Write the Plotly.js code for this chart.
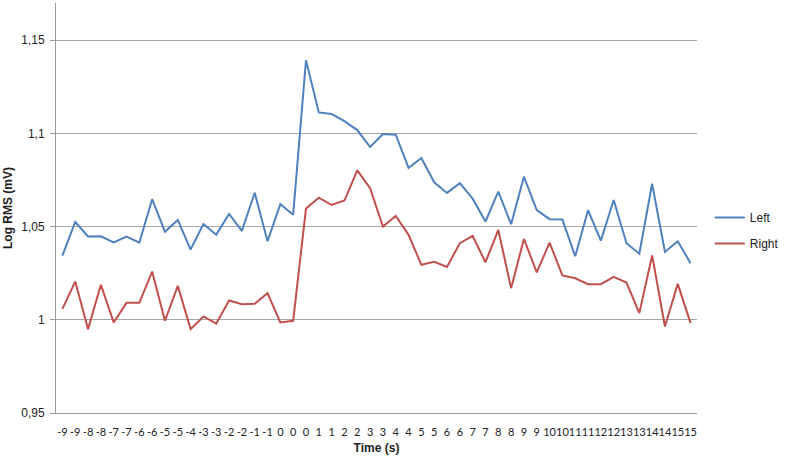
<!DOCTYPE html>
<html>
<head>
<meta charset="utf-8">
<script src="https://cdn.plot.ly/plotly-3.0.1.min.js"></script>
<style>
  body { margin: 0; background: #fff; }
  #myPlot { width: 787px; height: 460px; }
</style>
</head>
<body>
<div id="myPlot"></div>
<script>
// x labels as printed under the axis (rounded times, so some repeat)
var timeLabels = ["-9","-9","-8","-8","-7","-7","-6","-6","-5","-5",
  "-4","-3","-3","-2","-2","-1","-1","0","0","0",
  "1","1","2","2","3","3","4","4","5","5",
  "6","6","7","7","8","8","9","9","10","10",
  "11","11","12","12","13","13","14","14","15","15"]

// Left channel
var leftArray = [1.0345,1.0525,1.0447,1.0448,1.0416,1.0447,1.0414,1.0647,1.0473,1.0536,
  1.0377,1.0514,1.0457,1.0568,1.0477,1.0682,1.0422,1.0620,1.0564,1.1393,
  1.1113,1.1104,1.1066,1.1018,1.0927,1.0997,1.0993,1.0815,1.0868,1.0738,
  1.0681,1.0733,1.0650,1.0527,1.0688,1.0513,1.0768,1.0589,1.0540,1.0538,
  1.0341,1.0588,1.0425,1.0643,1.0411,1.0355,1.0730,1.0364,1.0422,1.0304]

// Right channel
var rightArray = [1.0059,1.0205,0.9950,1.0188,0.9986,1.0091,1.0091,1.0259,0.9995,1.0182,
  0.9950,1.0018,0.9979,1.0104,1.0084,1.0086,1.0143,0.9986,0.9995,1.0597,
  1.0655,1.0616,1.0640,1.0802,1.0706,1.0500,1.0557,1.0456,1.0295,1.0311,
  1.0284,1.0411,1.0450,1.0309,1.0482,1.0170,1.0434,1.0254,1.0414,1.0238,
  1.0223,1.0191,1.0191,1.0230,1.0200,1.0036,1.0345,0.9964,1.0193,0.9982]

// y ticks, comma decimals
var yTickVals = [0.95, 1, 1.05, 1.1, 1.15]
var yTickText = ["0,95", "1", "1,05", "1,1", "1,15"]

var xIndex = timeLabels.map(function (l, i) { return i })

function graphFunction() {
  var data = [
    {x: xIndex, y: leftArray, mode: "lines", name: "Left", legendgroup: "L",
     line: {color: "#4f81bd", width: 2}},
    {x: xIndex, y: rightArray, mode: "lines", name: "Right", legendgroup: "R",
     line: {color: "#c0504d", width: 2}}
  ]

  var layout = {
    width: 787, height: 460,
    margin: {l: 56, r: 84, t: 3, b: 47},
    paper_bgcolor: "#fff", plot_bgcolor: "#fff",
    font: {family: "Liberation Sans, Arial, sans-serif", size: 11, color: "#222"},
    showlegend: true,
    legend: {x: 1.02, y: 0.445, xanchor: "left", yanchor: "middle",
      font: {size: 12, color: "#222"}, traceorder: "grouped", tracegroupgap: 7},
    xaxis: {
      range: [-0.5, 49.5],
      tickmode: "array", tickvals: xIndex, ticktext: timeLabels,
      tickangle: 0, ticks: "", showgrid: false, zeroline: false,
      ticklabelstandoff: 9,
      showline: true, linecolor: "#999", linewidth: 1,
      tickfont: {family: "Lato, Liberation Sans, sans-serif", size: 11, color: "#222"},
      title: {text: "<b>Time (s)</b>", font: {size: 12, color: "#222"}, standoff: 6}
    },
    yaxis: {
      range: [0.95, 1.17],
      tickmode: "array", tickvals: yTickVals, ticktext: yTickText,
      ticks: "outside", ticklen: 5, tickcolor: "#999",
      ticklabelstandoff: 3,
      showgrid: true, gridcolor: "#a6a6a6", gridwidth: 1,
      zeroline: false, showline: true, linecolor: "#999", linewidth: 1,
      tickfont: {size: 12, color: "#222"},
      title: {text: "<b>Log RMS (mV)</b>", font: {size: 12, color: "#222"}, standoff: 6}
    }
  }

  Plotly.newPlot("myPlot", data, layout, {displayModeBar: false, staticPlot: true})
}

graphFunction()
</script>
</body>
</html>
